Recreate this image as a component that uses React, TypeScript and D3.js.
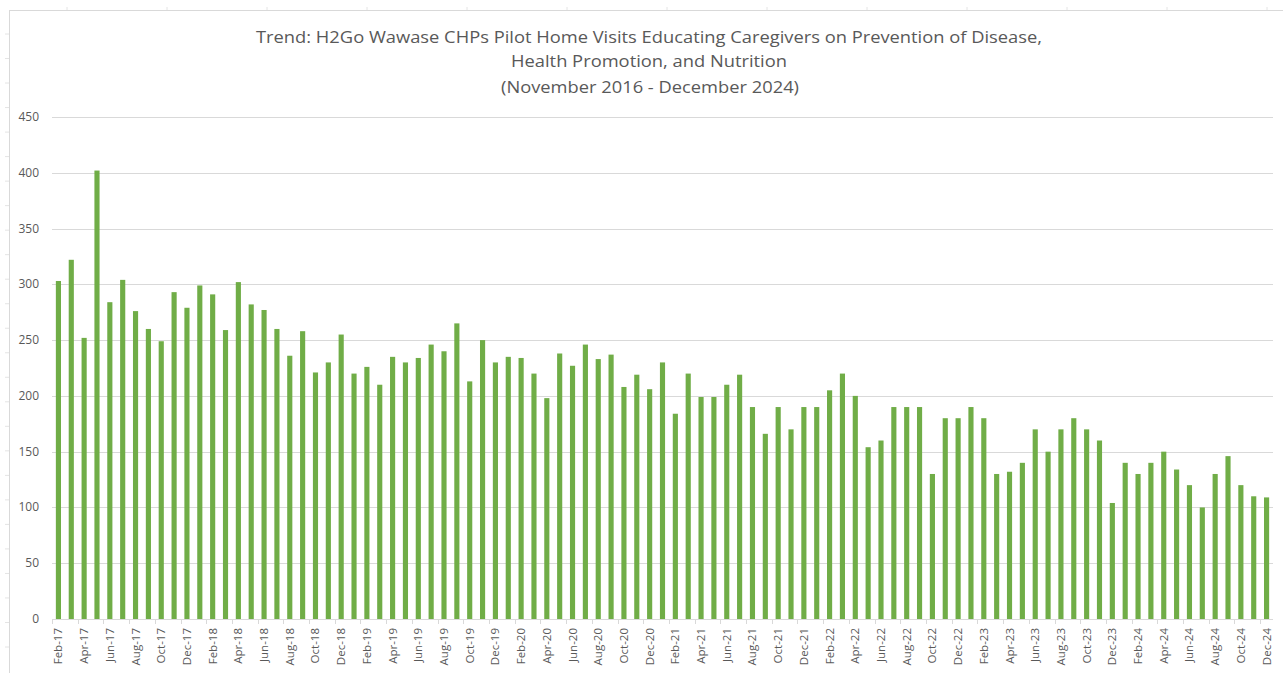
import React from "react";
import * as d3 from "d3";

const TITLE_LINES = [
  "Trend: H2Go Wawase CHPs Pilot Home Visits Educating Caregivers on Prevention of Disease,",
  "Health Promotion, and Nutrition",
  "(November 2016 - December 2024)",
];

const MONTHS = ["Jan", "Feb", "Mar", "Apr", "May", "Jun", "Jul", "Aug", "Sep", "Oct", "Nov", "Dec"];

const values2017 = [303, 322, 252, 402, 284, 304, 276, 260, 249, 293, 279]; // Feb-Dec
const values2018 = [299, 291, 259, 302, 282, 277, 260, 236, 258, 221, 230, 255];
const values2019 = [220, 226, 210, 235, 230, 234, 246, 240, 265, 213, 250, 230];
const values2020 = [235, 234, 220, 198, 238, 227, 246, 233, 237, 208, 219, 206];
const values2021 = [230, 184, 220, 199, 199, 210, 219, 190, 166, 190, 170, 190];
const values2022 = [190, 205, 220, 200, 154, 160, 190, 190, 190, 130, 180, 180];
const values2023 = [190, 180, 130, 132, 140, 170, 150, 170, 180, 170, 160, 104];
const values2024 = [140, 130, 140, 150, 134, 120, 100, 130, 146, 120, 110, 109];

const yearSeries: [string, number[], number][] = [
  ["17", values2017, 1],
  ["18", values2018, 0],
  ["19", values2019, 0],
  ["20", values2020, 0],
  ["21", values2021, 0],
  ["22", values2022, 0],
  ["23", values2023, 0],
  ["24", values2024, 0],
];

const data = yearSeries.flatMap(([yy, vals, startMonth]) =>
  vals.map((v, i) => ({ label: `${MONTHS[startMonth + i]}-${yy}`, value: v }))
);

const yTicks = [0, 50, 100, 150, 200, 250, 300, 350, 400, 450];

const W = 1283;
const H = 673;
const plot = { left: 52, right: 1273, top: 117, bottom: 619 };
const TEXT = "#595959";
const GRID = "#d9d9d9";
const BAR = "#70ad47";
const FONT = "'Open Sans', 'Liberation Sans', sans-serif";

export default function App() {
  const x = d3
    .scaleBand<string>()
    .domain(data.map((d) => d.label))
    .range([plot.left, plot.right])
    .paddingInner(0.6)
    .paddingOuter(0.3);
  const y = d3.scaleLinear().domain([0, 450]).range([plot.bottom, plot.top]);
  const step = x.step();
  const catStart = plot.left;
  const tickIdx = d3.range(0, data.length, 2);

  const rowTicks = d3.range(0, 26).map((k) => 34 + k * 24.52);
  const colTicks = d3.range(0, 13).map((k) => 67 + k * 100);

  return (
    <svg
      width={W}
      height={H}
      style={{ position: "absolute", left: 0, top: 0, background: "#fff" }}
      fontFamily={FONT}
    >
      <rect x={0} y={0} width={W} height={H} fill="#fff" />
      {/* sheet remnants */}
      {rowTicks.map((ry, i) => (
        <line key={"r" + i} x1={5} x2={9} y1={ry} y2={ry} stroke="#e4e4e4" strokeWidth={1} />
      ))}
      {colTicks.map((cx, i) => (
        <line key={"c" + i} x1={cx} x2={cx} y1={7} y2={10} stroke="#e4e4e4" strokeWidth={1} />
      ))}
      <line x1={9.5} x2={9.5} y1={10} y2={H} stroke={GRID} strokeWidth={1} />
      <line x1={9} x2={W} y1={10.5} y2={10.5} stroke={GRID} strokeWidth={1} />

      {/* title */}
      <g fill={TEXT} fontSize={17} textAnchor="middle">
        <text x={649} y={43} textLength={786} lengthAdjust="spacingAndGlyphs">
          {TITLE_LINES[0]}
        </text>
        <text x={649} y={67} textLength={276} lengthAdjust="spacingAndGlyphs">
          {TITLE_LINES[1]}
        </text>
        <text x={650} y={93} textLength={298} lengthAdjust="spacingAndGlyphs">
          {TITLE_LINES[2]}
        </text>
      </g>

      {/* gridlines */}
      {yTicks.map((t) => (
        <line
          key={"g" + t}
          x1={plot.left}
          x2={plot.right}
          y1={Math.round(y(t)) + 0.5}
          y2={Math.round(y(t)) + 0.5}
          stroke={GRID}
          strokeWidth={1}
        />
      ))}
      {/* y labels */}
      <g fill={TEXT} fontSize={12} textAnchor="end">
        {yTicks.map((t) => (
          <text key={"yl" + t} x={39} y={y(t) + 4}>
            {t}
          </text>
        ))}
      </g>

      {/* bars */}
      {data.map((d) => (
        <rect
          key={d.label}
          x={x(d.label)}
          y={y(d.value)}
          width={x.bandwidth()}
          height={y(0) - y(d.value)}
          fill={BAR}
        />
      ))}

      {/* x axis ticks */}
      {tickIdx.map((i) => (
        <line
          key={"xt" + i}
          x1={Math.round(catStart + i * step) + 0.5}
          x2={Math.round(catStart + i * step) + 0.5}
          y1={plot.bottom}
          y2={plot.bottom + 5}
          stroke={GRID}
        />
      ))}
      {/* x labels */}
      <g fill={TEXT} fontSize={11.5} textAnchor="end">
        {tickIdx.map((i) => {
          const d = data[i];
          const cx = (x(d.label) as number) + x.bandwidth() / 2 + 4;
          return (
            <text key={"xl" + i} transform={`translate(${cx},${plot.bottom + 9}) rotate(-90)`}>
              {d.label}
            </text>
          );
        })}
      </g>
    </svg>
  );
}
